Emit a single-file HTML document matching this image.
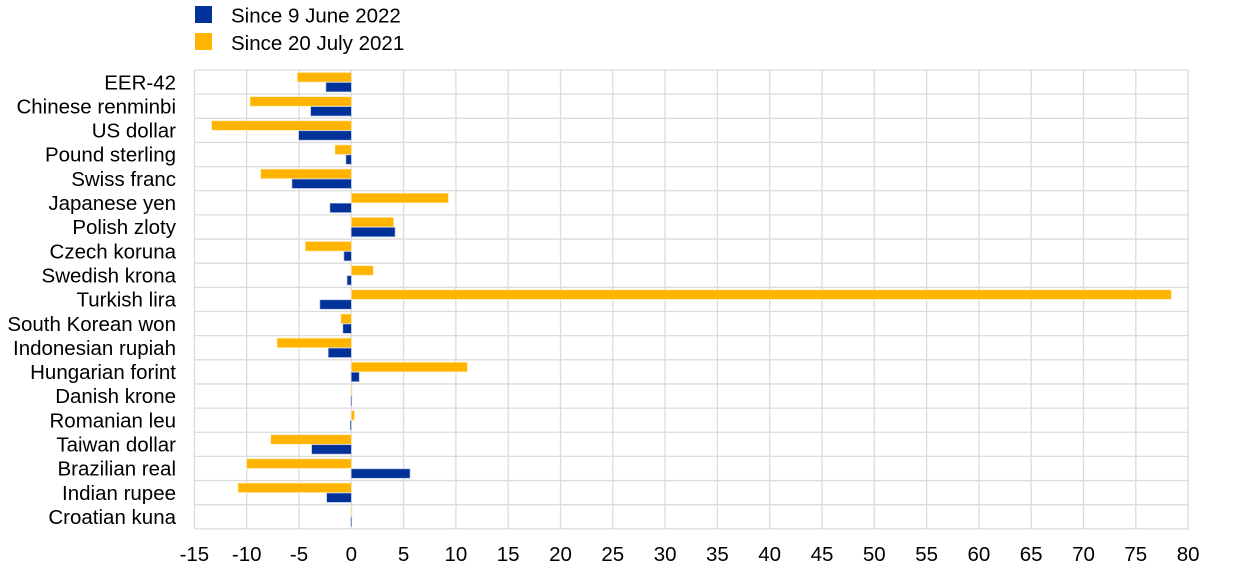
<!DOCTYPE html>
<html>
<head>
<meta charset="utf-8">
<style>
html,body{margin:0;padding:0;background:#fff;}
svg{display:block;}
text{font-family:"Liberation Sans",Arial,sans-serif;font-size:20.5px;fill:#000;}
</style>
</head>
<body>
<svg width="1240" height="575" viewBox="0 0 1240 575" xmlns="http://www.w3.org/2000/svg">
<g id="grid" stroke="#dcdcdc" stroke-width="1.3" fill="none"></g>
<g id="bars"></g>
<g id="labels"></g>
<g id="ticks"></g>
<rect x="195" y="6" width="17" height="17" fill="#003299"/>
<text x="231" y="22.5">Since 9 June 2022</text>
<rect x="195" y="33" width="17" height="17" fill="#FFB400"/>
<text x="231" y="50">Since 20 July 2021</text>
<script>
(function(){
var NS="http://www.w3.org/2000/svg";
function el(t,a,p,txt){var e=document.createElementNS(NS,t);for(var k in a)e.setAttribute(k,a[k]);if(txt!=null)e.textContent=txt;p.appendChild(e);return e;}
var x0=351.3,s=10.46,top=70,rh=24.15,left=194.7,right=1188.5,bottom=top+19*rh;
function X(v){return x0+v*s;}
var g=document.getElementById('grid');
for(var v=-15;v<=80;v+=5){el('line',{x1:X(v),x2:X(v),y1:top,y2:bottom},g);}
for(var i=0;i<=19;i++){var y=top+i*rh;el('line',{x1:left,x2:right,y1:y,y2:y},g);}
var data=[
["EER-42",-5.16,-2.42],
["Chinese renminbi",-9.68,-3.88],
["US dollar",-13.35,-5.03],
["Pound sterling",-1.56,-0.51],
["Swiss franc",-8.66,-5.67],
["Japanese yen",9.28,-2.04],
["Polish zloty",4.05,4.18],
["Czech koruna",-4.4,-0.7],
["Swedish krona",2.1,-0.4],
["Turkish lira",78.4,-3.0],
["South Korean won",-1.0,-0.8],
["Indonesian rupiah",-7.1,-2.2],
["Hungarian forint",11.1,0.75],
["Danish krone",0.02,-0.03],
["Romanian leu",0.3,-0.1],
["Taiwan dollar",-7.7,-3.79],
["Brazilian real",-10.0,5.61],
["Indian rupee",-10.83,-2.35],
["Croatian kuna",0.0,-0.05]
];
var b=document.getElementById('bars'),l=document.getElementById('labels');
data.forEach(function(d,i){
  var t=top+i*rh;
  var a=X(Math.min(0,d[1])),w=Math.max(Math.abs(d[1])*s,0.8);
  el('rect',{x:a,y:t+2.5,width:w,height:9.5,fill:'#FFB400',stroke:'#ffe9b3','stroke-width':0.6},b);
  var a2=X(Math.min(0,d[2])),w2=Math.max(Math.abs(d[2])*s,0.8);
  el('rect',{x:a2,y:t+12.5,width:w2,height:9.3,fill:'#003299',stroke:'#a9b8dc','stroke-width':0.6},b);
  el('text',{x:176,y:t+12.07+7.2,'text-anchor':'end'},l,d[0]);
});
var tk=document.getElementById('ticks');
for(var v=-15;v<=80;v+=5){el('text',{x:X(v),y:561,'text-anchor':'middle'},tk,String(v));}
})();
</script>
</svg>
</body>
</html>
